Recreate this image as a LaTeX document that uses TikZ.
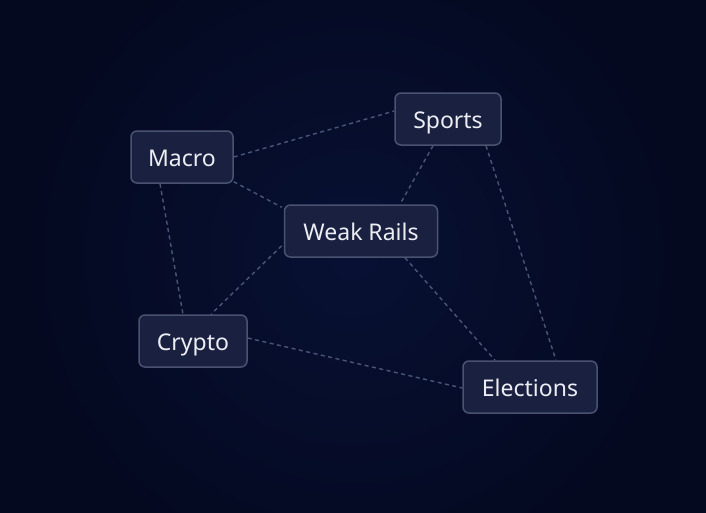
\documentclass[tikz,border=0pt]{standalone}
\usepackage{fontspec}
\setmainfont{Noto Sans}
\usetikzlibrary{calc}
\definecolor{bgout}{HTML}{040920}
\definecolor{bgin}{HTML}{081134}
\definecolor{nfill}{HTML}{1A2040}
\definecolor{nline}{HTML}{4A5272}
\definecolor{eline}{HTML}{4A5578}
\definecolor{txt}{HTML}{ECEEF4}
\begin{document}
\begin{tikzpicture}[x=1pt,y=-1pt,
  box/.style={draw=nline,line width=1.5pt,fill=nfill,rounded corners=6pt,minimum height=52pt,text=txt,font=\fontsize{23}{26}\selectfont,inner sep=0pt,anchor=center,text height=19pt,text depth=0pt},
  link/.style={draw=eline,line width=1.4pt,dash pattern=on 4pt off 3.5pt}]
\useasboundingbox (0,0) rectangle (706,512);
\begin{scope}[y=1pt]
\clip (-4,-516) rectangle (710,4);
\fill[bgout] (-4,-516) rectangle (710,4);
\shade[inner color=bgin,outer color=bgout] (353,-256) circle (330);
\end{scope}
\node[box,minimum width=102pt] (macro) at (182,157) {Macro};
\node[box,minimum width=106pt] (sports) at (448,119) {Sports};
\node[box,minimum width=153pt] (weak) at (361,231) {Weak Rails};
\node[box,minimum width=108pt] (crypto) at (193,341) {Crypto};
\node[box,minimum width=134pt] (elec) at (530,387) {Elections};
\path[link] (macro.east) -- ($(sports.west)+(0,-8)$);
\path[link] ($(macro.south east)+(0,-2)$) -- ($(weak.north west)+(-2,3)$);
\path[link] ($(macro.south)+(-22,0)$) -- ($(crypto.north)+(-10,0)$);
\path[link] ($(sports.south)+(-15,0)$) -- ($(weak.north)+(39,0)$);
\path[link] ($(sports.south)+(38,0)$) -- ($(elec.north)+(26,0)$);
\path[link] ($(weak.south west)+(-2,-12)$) -- ($(crypto.north)+(18,0)$);
\path[link] ($(weak.south)+(44,0)$) -- ($(elec.north)+(-35,0)$);
\path[link] ($(crypto.east)+(0,-3)$) -- ($(elec.west)+(0,1)$);
\end{tikzpicture}
\end{document}
